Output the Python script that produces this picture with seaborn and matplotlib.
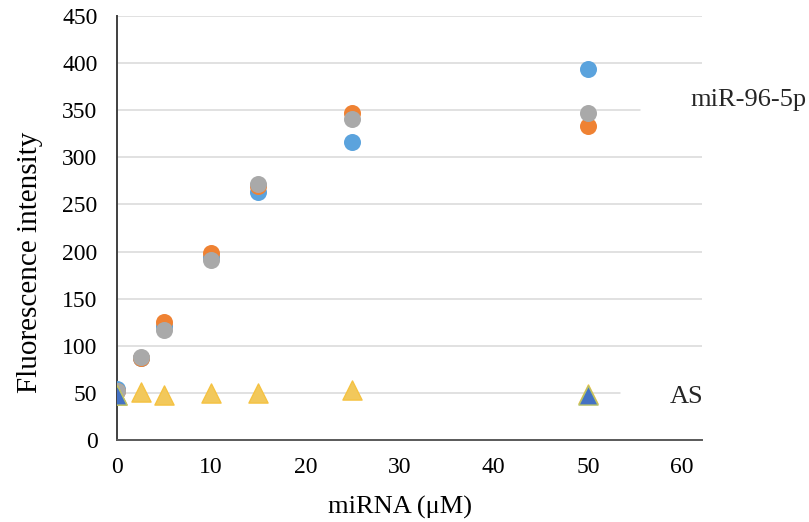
import numpy as np
import pandas as pd
import matplotlib
matplotlib.use("Agg")
import matplotlib.pyplot as plt
import seaborn as sns

# miRNA concentration (uM)
conc = [0, 2.5, 5, 10, 15, 25, 50]

# circles: miR-96-5p replicates
rep1 = [54, 87, 121, 194, 263, 316, 394]   # blue
rep2 = [52, 87, 125, 198, 270, 347, 333]   # orange
rep3 = [52, 88, 117, 191, 272, 341, 347]   # gray

# triangles: AS control
as_yellow = [48, 51, 48, 50, 50, 53, 49]
as_blue_x = [0, 50]
as_blue = [48, 48]

y_ticks = list(range(0, 451, 50))
x_ticks = list(range(0, 61, 10))

sns.set_theme(style="white")
plt.rcParams["font.family"] = ["Liberation Serif", "DejaVu Serif"]

fig = plt.figure(figsize=(8.09, 5.22), dpi=100)
ax = fig.add_axes([0.1446, 0.1571, 0.8677 - 0.1446, 0.9693 - 0.1571])

# gridlines (two are cut short where the series labels sit)
grid_end = {350: 0.894, 50: 0.86}
for yv in y_ticks[1:]:
    ax.axhline(yv, xmin=0, xmax=grid_end.get(yv, 1.0), color="#D9D9D9", lw=1.1, zorder=0)

circ = dict(s=150, marker="o", linewidth=0, ax=ax, zorder=3, legend=False)
sns.scatterplot(x=conc, y=rep1, color="#5BA3DD", **circ)
sns.scatterplot(x=conc, y=rep2, color="#EF8233", **circ)
sns.scatterplot(x=conc, y=rep3, color="#A9A9A9", **circ)

sns.scatterplot(x=conc, y=as_yellow, marker="^", s=190, color="#F2C85B",
                edgecolor="#F5C242", linewidth=1, ax=ax, zorder=4, legend=False)
sns.scatterplot(x=as_blue_x, y=as_blue, marker="^", s=190, color="#4472C4",
                edgecolor="#B7C26A", linewidth=1, ax=ax, zorder=5, legend=False)

ax.set_xlim(0, 62.1)
ax.set_ylim(0, 450)
ax.set_xticks(x_ticks)
ax.set_yticks(y_ticks)
ax.tick_params(axis="both", length=0, labelsize=17, colors="black")
ax.tick_params(axis="y", pad=14)
ax.tick_params(axis="x", pad=12)

for s in ["top", "right"]:
    ax.spines[s].set_visible(False)
ax.spines["left"].set_color("#404040")
ax.spines["left"].set_linewidth(1.4)
ax.spines["bottom"].set_color("#595959")
ax.spines["bottom"].set_linewidth(1.4)
ax.set_zorder(1)
for sp in ax.spines.values():
    sp.set_zorder(2)

ax.set_xlabel("miRNA (\u03bcM)", fontsize=19, color="black", va="center")
ax.set_ylabel("Fluorescence intensity", fontsize=21, color="black", va="center")
ax.xaxis.set_label_coords(0.484, -0.158)
ax.yaxis.set_label_coords(-0.149, 0.42)

fig.text(0.853, 0.808, "miR-96-5p", fontsize=19, va="center", ha="left")
fig.text(0.828, 0.239, "AS", fontsize=19, va="center", ha="left")

fig.savefig("out.png", dpi=100)
